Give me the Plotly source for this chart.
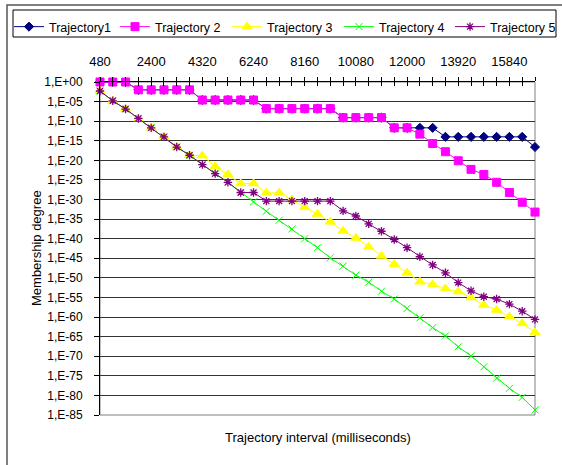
import plotly.graph_objects as go

# Categories (milliseconds)
intervals = [480 * i for i in range(1, 36)]
x_tick_labels = [480, 2400, 4320, 6240, 8160, 10080, 12000, 13920, 15840]

# log10 of membership degree
traj1_exp = [0, 0, 0, -2, -2, -2, -2, -2, -4.6, -4.6, -4.6, -4.6, -4.6,
             -6.8, -6.8, -6.8, -6.8, -6.8, -6.8, -9.1, -9.1, -9.1, -9.1,
             -11.7, -11.7, -11.7, -11.7, -14, -14, -14, -14, -14, -14, -14, -16.6]
traj2_exp = [0, 0, 0, -2, -2, -2, -2, -2, -4.6, -4.6, -4.6, -4.6, -4.6,
             -6.8, -6.8, -6.8, -6.8, -6.8, -6.8, -9.1, -9.1, -9.1, -9.1,
             -11.7, -11.7, -13.3, -15.7, -17.8, -20.1, -22.3, -23.6, -25.6,
             -28.2, -30.7, -33.2]
traj3_exp = [-2.3, -4.8, -6.9, -9.3, -11.7, -14, -16.6, -18.7, -18.8, -21.5,
             -23.6, -25.9, -25.9, -28.3, -28.3, -30.0, -32.0, -33.7, -35.7,
             -38.0, -39.8, -42.1, -44.4, -46.5, -48.7, -51.0, -51.7, -52.7,
             -53.5, -55.0, -56.9, -58.2, -59.9, -61.6, -63.9]
traj4_exp = [-2.3, -4.8, -6.9, -9.3, -11.7, -14, -16.6, -18.7, -21.1, -23.4,
             -25.6, -28.2, -30.6, -33.0, -35.3, -37.5, -40.0, -42.3, -44.9,
             -47.0, -49.3, -51.1, -53.4, -55.4, -57.8, -60.2, -62.7, -64.8,
             -67.6, -69.9, -72.7, -75.6, -78.2, -80.5, -83.7]
traj5_exp = [-2.3, -4.8, -6.9, -9.3, -11.7, -14, -16.6, -18.7, -21.1, -23.4,
             -25.6, -28.2, -28.2, -30.4, -30.4, -30.4, -30.4, -30.4, -30.4,
             -32.9, -34.2, -36.2, -38.1, -40.2, -42.3, -44.6, -46.7, -48.7,
             -51.2, -53.3, -54.8, -55.4, -56.7, -58.5, -60.6]

y_tick_exps = list(range(0, -90, -5))
y_tick_labels = ["1,E+00" if e == 0 else "1,E-%02d" % (-e) for e in y_tick_exps]

series = [
    ("Trajectory1", traj1_exp, "#000080", "diamond", 7, 1),
    ("Trajectory 2", traj2_exp, "#FF00FF", "square", 8, 1),
    ("Trajectory 3", traj3_exp, "#FFFF00", "triangle-up", 9, 1),
    ("Trajectory 4", traj4_exp, "#00FF00", "x-thin-open", 7, 1),
    ("Trajectory 5", traj5_exp, "#800080", "asterisk-open", 7, 1.3),
]
legend_ids = ["legend", "legend2", "legend3", "legend4", "legend5"]
legend_px = [9, 115, 227, 339, 450]

FONT = "Liberation Sans, Arial, sans-serif"
fig = go.Figure()
for (name, exps, color, sym, size, lw), lid in zip(series, legend_ids):
    fig.add_trace(go.Scatter(
        x=intervals, y=[10 ** e for e in exps], name=name, mode="lines+markers",
        line=dict(color=color, width=1),
        marker=dict(symbol=sym, size=size, color=color,
                    line=dict(color=color, width=lw)),
        cliponaxis=False, legend=lid,
    ))

# dummy trace to enable the overlay axis for crossing tick marks
fig.add_trace(go.Scatter(x=[intervals[0]], y=[1], xaxis="x2", mode="markers",
                         marker=dict(opacity=0), showlegend=False, hoverinfo="skip"))

L, R, T, B = 100, 27, 82, 50
W, H = 562, 465
pw, ph = W - L - R, H - T - B

def px(x):
    return (x - L) / pw

def py(y):
    return (H - B - y) / ph

legends = {}
for lid, lx in zip(legend_ids, legend_px):
    legends[lid] = dict(orientation="h", xref="container", yref="container",
                        x=lx / W, y=1 - 12 / H, xanchor="left", yanchor="top",
                        bgcolor="rgba(0,0,0,0)", borderwidth=0,
                        font=dict(family=FONT, size=12.5), itemwidth=30)

xr = [intervals[0], intervals[-1]]
fig.update_layout(
    width=W, height=H,
    margin=dict(l=L, r=R, t=T, b=B, autoexpand=False),
    paper_bgcolor="white", plot_bgcolor="white",
    font=dict(family=FONT, size=13, color="black"),
    showlegend=True,
    **legends,
    xaxis=dict(type="linear", range=xr, side="top", showline=True,
               linecolor="black", linewidth=1, showgrid=False, zeroline=False,
               tickvals=x_tick_labels, ticktext=[str(v) for v in x_tick_labels],
               ticks="outside", ticklen=4, tickcolor="black",
               ticklabelstandoff=6,
               minor=dict(dtick=480, tick0=480, ticks="outside", ticklen=4,
                          tickcolor="black", showgrid=False),
               tickfont=dict(family=FONT, size=13)),
    xaxis2=dict(type="linear", range=xr, overlaying="x", side="top",
                showline=False, showgrid=False, zeroline=False,
                showticklabels=False, tickvals=x_tick_labels,
                ticks="inside", ticklen=4, tickcolor="black",
                minor=dict(dtick=480, tick0=480, ticks="inside", ticklen=4,
                           tickcolor="black", showgrid=False)),
    yaxis=dict(type="log", range=[-85, 0], showline=True, linecolor="black",
               linewidth=1, tickvals=[10 ** e for e in y_tick_exps],
               ticktext=y_tick_labels, ticks="outside", ticklen=5,
               tickcolor="black", showgrid=True, gridcolor="#333333",
               ticklabelstandoff=9,
               gridwidth=1, zeroline=False, tickfont=dict(family=FONT, size=12)),
    shapes=[
        # plot-area border (grey right / bottom)
        dict(type="rect", xref="paper", yref="paper", x0=0, y0=0, x1=1, y1=1,
             line=dict(color="#808080", width=1), layer="below"),
        # legend box
        dict(type="rect", xref="paper", yref="paper", x0=px(13), x1=px(556),
             y0=py(37), y1=py(10), line=dict(color="black", width=1)),
        # chart outer frame
        dict(type="rect", xref="paper", yref="paper", x0=px(7), x1=px(600),
             y0=py(500), y1=py(5), line=dict(color="#555555", width=1.5)),
    ],
    annotations=[
        dict(text="Trajectory interval (milliseconds)", xref="paper", yref="paper",
             x=0.5, y=py(438), showarrow=False, xanchor="center", yanchor="middle",
             font=dict(family=FONT, size=13)),
        dict(text="Membership degree", xref="paper", yref="paper",
             x=px(36), y=py(248), showarrow=False, textangle=-90,
             xanchor="center", yanchor="middle", font=dict(family=FONT, size=13)),
    ],
)

fig.write_html("out.html")
